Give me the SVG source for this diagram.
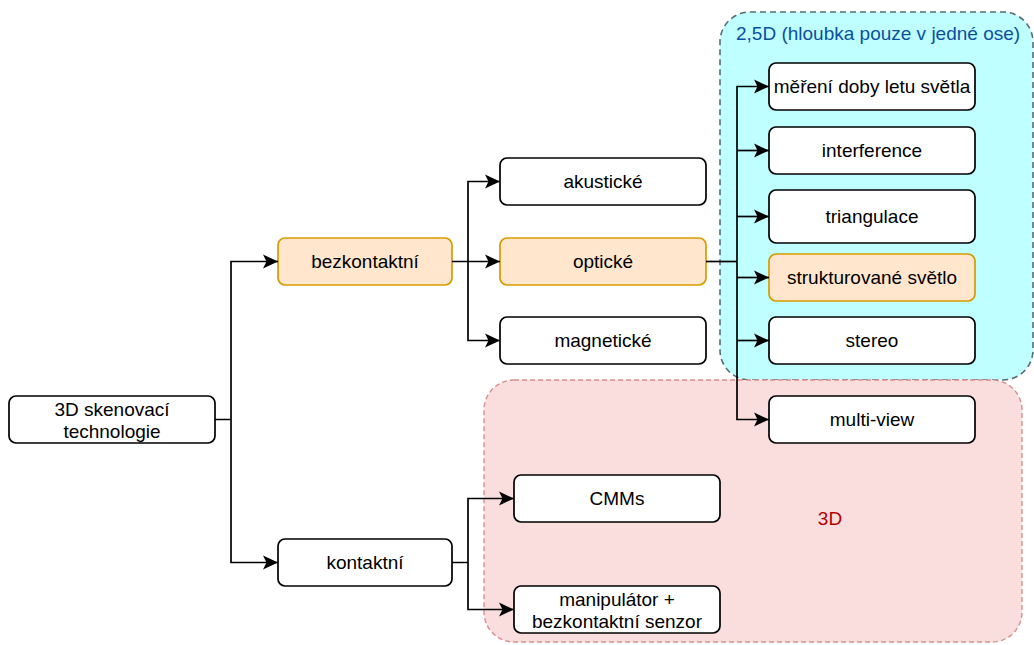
<svg xmlns="http://www.w3.org/2000/svg" width="1034" height="645" viewBox="0 0 1034 645">
  <style>
    .box { fill: #ffffff; stroke: #000000; stroke-width: 1.7; }
    .hl { fill: #ffe6cc; stroke: #d79b00; stroke-width: 1.7; }
    .lbl { font-family: "Liberation Sans", Arial, Helvetica, sans-serif; font-size: 19px; fill: #000000; text-anchor: middle; }
    .edge { fill: none; stroke: #000000; stroke-width: 1.7; }
    .arrow { marker-end: url(#head); }
  </style>
  <defs>
    <marker id="head" markerUnits="userSpaceOnUse" markerWidth="15" markerHeight="15" viewBox="0 0 15 15" refX="15" refY="7.5" orient="auto">
      <path d="M0,0.5 L15,7.5 L0,14.5 L3.5,7.5 Z" fill="#000000"/>
    </marker>
  </defs>

  <rect width="1034" height="645" fill="#ffffff"/>

  <!-- area: 2,5D methods -->
  <g id="area-25d">
    <rect x="720" y="12" width="313" height="368" rx="30" fill="#bfffff" stroke="#566f73" stroke-width="1.6" stroke-dasharray="6 4"/>
    <text x="736" y="40" font-family="Liberation Sans, Arial, sans-serif" font-size="19" fill="#0a50a0">2,5D (hloubka pouze v jedné ose)</text>
  </g>

  <!-- area: full 3D methods -->
  <g id="area-3d">
    <rect x="484" y="380" width="538" height="262" rx="30" fill="#fadedd" stroke="#d88f8c" stroke-width="1.4" stroke-dasharray="5 3"/>
    <text x="830" y="525" font-family="Liberation Sans, Arial, sans-serif" font-size="19" fill="#b20000" text-anchor="middle">3D</text>
  </g>

  <!-- nodes -->
  <g id="n-root">
    <rect class="box" x="9" y="396" width="206" height="47" rx="7"/>
    <text class="lbl" x="112" y="416">3D skenovací</text>
    <text class="lbl" x="112" y="438">technologie</text>
  </g>
  <g id="n-bezkontaktni">
    <rect class="hl" x="278" y="238" width="174" height="47" rx="7"/>
    <text class="lbl" x="365" y="268">bezkontaktní</text>
  </g>
  <g id="n-kontaktni">
    <rect class="box" x="278" y="539" width="174" height="47" rx="7"/>
    <text class="lbl" x="365" y="569">kontaktní</text>
  </g>
  <g id="n-akusticke">
    <rect class="box" x="500" y="158" width="206" height="47" rx="7"/>
    <text class="lbl" x="603" y="188">akustické</text>
  </g>
  <g id="n-opticke">
    <rect class="hl" x="500" y="238" width="206" height="47" rx="7"/>
    <text class="lbl" x="603" y="268">optické</text>
  </g>
  <g id="n-magneticke">
    <rect class="box" x="500" y="317" width="206" height="47" rx="7"/>
    <text class="lbl" x="603" y="347">magnetické</text>
  </g>
  <g id="n-tof">
    <rect class="box" x="769" y="63" width="206" height="47" rx="7"/>
    <text class="lbl" x="872" y="93">měření doby letu světla</text>
  </g>
  <g id="n-interference">
    <rect class="box" x="769" y="127" width="206" height="47" rx="7"/>
    <text class="lbl" x="872" y="157">interference</text>
  </g>
  <g id="n-triangulace">
    <rect class="box" x="769" y="190" width="206" height="53" rx="7"/>
    <text class="lbl" x="872" y="223">triangulace</text>
  </g>
  <g id="n-strukturovane">
    <rect class="hl" x="769" y="254" width="206" height="47" rx="7"/>
    <text class="lbl" x="872" y="284">strukturované světlo</text>
  </g>
  <g id="n-stereo">
    <rect class="box" x="769" y="317" width="206" height="47" rx="7"/>
    <text class="lbl" x="872" y="347">stereo</text>
  </g>
  <g id="n-multiview">
    <rect class="box" x="769" y="396" width="206" height="47" rx="7"/>
    <text class="lbl" x="872" y="426">multi-view</text>
  </g>
  <g id="n-cmms">
    <rect class="box" x="514" y="475" width="206" height="47" rx="7"/>
    <text class="lbl" x="617" y="505">CMMs</text>
  </g>
  <g id="n-manipulator">
    <rect class="box" x="514" y="586" width="206" height="47" rx="7"/>
    <text class="lbl" x="617" y="606">manipulátor +</text>
    <text class="lbl" x="617" y="628">bezkontaktní senzor</text>
  </g>

  <!-- connectors -->
  <g id="connectors">
    <path class="edge arrow" d="M215,419.5 H231 V261.5 H278"/>
    <path class="edge arrow" d="M231,419.5 V562.5 H278"/>
    <path class="edge arrow" d="M452,261.5 H500"/>
    <path class="edge arrow" d="M468,261.5 V181.5 H500"/>
    <path class="edge arrow" d="M468,261.5 V340.5 H500"/>
    <path class="edge" d="M706,261.5 H737"/>
    <path class="edge arrow" d="M737,261.5 V86.5 H769"/>
    <path class="edge arrow" d="M737,150.5 H769"/>
    <path class="edge arrow" d="M737,216.5 H769"/>
    <path class="edge arrow" d="M737,277.5 H769"/>
    <path class="edge arrow" d="M737,340.5 H769"/>
    <path class="edge arrow" d="M737,261.5 V419.5 H769"/>
    <path class="edge arrow" d="M452,562.5 H468 V498.5 H514"/>
    <path class="edge arrow" d="M468,562.5 V609.5 H514"/>
  </g>
</svg>
